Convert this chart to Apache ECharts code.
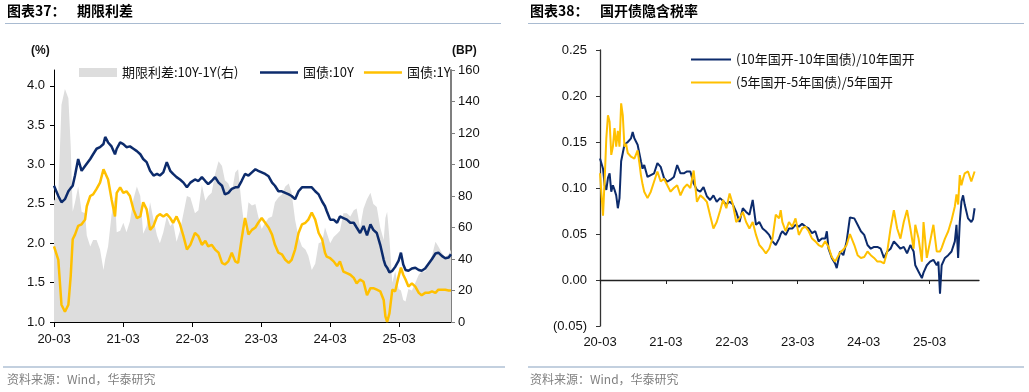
<!DOCTYPE html>
<html><head><meta charset="utf-8">
<script src="https://cdn.jsdelivr.net/npm/echarts@6/dist/echarts.min.js"></script>
<style>html,body{margin:0;padding:0;background:#fff}#c{width:1029px;height:392px}</style>
</head><body><div id="c"></div>
<script>
// ---------- Left chart (图表37 期限利差): x = months since 2020-03 ----------
const monthsL = [0,0.75,1.3,1.9,2.5,2.9,3.25,3.65,4.2,4.8,5.4,5.7,6.3,6.8,7.4,8.0,8.6,8.9,9.4,10.0,
  10.6,10.9,11.5,12.05,12.6,13.2,13.8,14.4,15.0,15.5,16.1,16.7,17.3,17.9,18.4,19.0,19.6,20.2,20.7,21.3,
  21.9,22.5,23.1,23.7,24.5,25.1,25.7,26.3,26.8,27.4,28.0,28.6,29.2,29.7,30.3,30.9,31.5,32.0,32.6,33.2,
  33.8,34.4,35.0,35.5,36.1,36.7,37.3,37.9,38.4,39.0,39.6,40.2,40.8,41.3,41.9,42.5,43.1,43.7,44.2,44.8,
  45.4,46.0,46.6,47.1,47.4,48.0,48.6,49.2,49.7,50.3,50.9,51.5,52.1,52.6,53.2,53.8,54.4,55.0,55.5,56.1,
  56.7,57.3,57.6,57.9,58.3,58.8,59.3,59.9,60.3,60.7,61.1,61.6,62.2,62.8,63.4,63.9,64.5,65.1,65.7,66.3,
  66.8,67.4,68.0,68.6,69.0];
const yield10Y = [2.73,2.60,2.52,2.56,2.66,2.70,2.73,2.86,3.07,2.92,2.98,3.00,3.07,3.13,3.20,3.22,3.26,3.35,3.28,3.23,
  3.13,3.20,3.28,3.26,3.22,3.23,3.20,3.17,3.13,3.07,3.03,2.92,2.86,2.88,2.86,2.90,3.03,2.92,2.88,2.84,
  2.81,2.77,2.71,2.77,2.81,2.79,2.84,2.79,2.75,2.79,2.84,2.77,2.73,2.62,2.64,2.69,2.71,2.71,2.79,2.88,
  2.86,2.90,2.94,2.92,2.90,2.88,2.85,2.77,2.73,2.66,2.66,2.64,2.62,2.60,2.56,2.66,2.71,2.71,2.71,2.71,
  2.66,2.62,2.53,2.47,2.41,2.30,2.30,2.26,2.34,2.32,2.30,2.26,2.26,2.20,2.13,2.22,2.10,2.24,2.17,2.13,
  1.98,1.79,1.72,1.69,1.63,1.65,1.70,1.78,1.88,1.73,1.66,1.65,1.68,1.69,1.66,1.65,1.68,1.74,1.80,1.87,
  1.88,1.84,1.81,1.82,1.86];
const yield1Y = [1.96,1.79,1.22,1.13,1.22,1.58,2.05,2.11,2.22,2.24,2.30,2.47,2.60,2.62,2.69,2.77,2.94,2.96,2.81,2.56,
  2.34,2.64,2.71,2.64,2.66,2.60,2.43,2.32,2.34,2.52,2.43,2.17,2.22,2.34,2.37,2.34,2.37,2.32,2.26,2.34,
  2.24,2.09,1.92,1.98,2.13,2.09,1.98,2.03,1.96,1.98,1.92,1.88,1.75,1.73,1.77,1.88,1.77,1.75,2.05,2.32,
  2.11,2.17,2.20,2.26,2.32,2.26,2.20,2.11,1.98,1.88,1.86,1.79,1.75,1.79,1.92,2.13,2.24,2.26,2.30,2.39,
  2.30,2.13,2.05,1.88,1.83,1.81,1.77,1.71,1.77,1.64,1.62,1.60,1.56,1.49,1.54,1.51,1.34,1.43,1.43,1.41,
  1.39,1.28,1.07,1.00,1.11,1.41,1.39,1.58,1.69,1.60,1.54,1.45,1.49,1.45,1.37,1.34,1.37,1.37,1.39,1.37,
  1.41,1.41,1.41,1.40,1.40];
const spreadBP = [77,81,138,148,142,112,70,76,86,70,69,55,48,52,52,46,33,40,48,68,
  80,57,58,63,57,64,78,86,80,56,61,76,65,55,50,57,67,61,63,51,
  58,69,80,79,69,71,87,77,80,82,94,102,99,90,88,82,95,97,75,57,
  76,74,75,67,59,63,66,67,76,79,81,86,88,82,65,54,48,46,42,33,
  37,50,51,60,59,50,54,56,58,69,69,67,71,72,60,72,78,82,75,73,
  60,52,66,70,53,25,32,21,20,14,13,21,20,25,30,32,32,38,42,51,
  48,44,41,43,46];
const pctTicks = [1.0,1.5,2.0,2.5,3.0,3.5,4.0];

// ---------- Right chart (图表38 国开债隐含税率) ----------
const monthsR = [0,0.55,0.85,1.15,1.45,1.75,2.05,2.35,2.65,2.95,3.25,3.55,3.85,4.15,4.45,4.75,5.05,5.65,5.95,6.25,
  6.85,7.15,7.45,7.75,8.05,8.65,9.25,9.85,10.45,11.05,11.65,12.25,12.85,13.45,14.05,14.65,15.25,15.85,16.45,17.05,
  17.65,18.25,18.85,19.45,20.05,20.65,21.25,21.85,22.4,23.0,23.6,24.2,24.8,25.4,26.0,26.6,27.2,27.8,28.4,29.0,
  29.6,30.2,30.8,31.4,32.0,32.6,32.9,33.2,33.8,34.4,35.0,35.6,36.2,36.8,37.4,38.0,38.6,39.2,39.8,40.4,
  41.0,41.3,41.6,42.2,42.8,43.1,43.7,44.3,44.9,45.5,46.3,46.9,47.5,48.1,48.7,49.3,49.9,50.5,51.1,51.7,
  52.3,52.9,53.5,54.1,54.7,55.3,55.9,56.5,57.1,57.4,58.0,58.6,58.9,59.5,60.1,60.7,61.3,61.6,61.9,62.2,
  62.8,63.4,64.0,64.6,64.9,65.2,65.5,65.8,66.1,66.4,67.0,67.6,67.9,68.2];
const ratioCDB10 = [0.132,0.121,0.103,0.098,0.111,0.116,0.096,0.103,0.098,0.092,0.078,0.089,0.129,0.138,0.147,0.148,0.150,0.154,0.161,0.154,
  0.147,0.138,0.129,0.121,0.125,0.112,0.114,0.116,0.127,0.123,0.111,0.107,0.109,0.112,0.125,0.116,0.116,0.118,0.118,0.105,
  0.098,0.096,0.101,0.091,0.087,0.092,0.085,0.089,0.086,0.082,0.085,0.082,0.074,0.063,0.078,0.074,0.071,0.087,0.060,0.063,
  0.056,0.053,0.049,0.042,0.038,0.045,0.050,0.053,0.049,0.056,0.056,0.060,0.058,0.061,0.058,0.056,0.051,0.053,0.042,0.045,
  0.045,0.053,0.034,0.024,0.018,0.013,0.031,0.027,0.042,0.068,0.067,0.060,0.053,0.049,0.038,0.034,0.036,0.036,0.034,0.024,
  0.031,0.034,0.042,0.038,0.034,0.036,0.029,0.038,0.031,0.016,0.009,0.002,0.008,0.016,0.020,0.022,0.016,0.020,-0.015,0.016,
  0.024,0.027,0.031,0.042,0.060,0.024,0.063,0.085,0.092,0.082,0.067,0.063,0.066,0.078];
const ratioCDB5 = [0.116,0.070,0.109,0.154,0.179,0.172,0.136,0.145,0.165,0.145,0.162,0.145,0.192,0.179,0.145,0.148,0.138,0.134,0.133,0.132,
  0.141,0.128,0.114,0.104,0.096,0.089,0.096,0.107,0.118,0.107,0.110,0.103,0.096,0.100,0.103,0.092,0.100,0.104,0.100,0.119,
  0.085,0.092,0.089,0.085,0.070,0.056,0.063,0.075,0.087,0.078,0.094,0.082,0.063,0.067,0.074,0.063,0.056,0.063,0.049,0.038,
  0.034,0.029,0.034,0.045,0.071,0.067,0.076,0.063,0.053,0.063,0.058,0.067,0.049,0.056,0.058,0.053,0.045,0.042,0.038,0.036,
  0.042,0.040,0.036,0.025,0.020,0.022,0.030,0.033,0.038,0.050,0.038,0.027,0.024,0.025,0.031,0.027,0.024,0.020,0.020,0.018,
  0.031,0.056,0.076,0.056,0.045,0.063,0.076,0.056,0.034,0.060,0.045,0.020,0.063,0.024,0.042,0.060,0.031,0.030,0.031,0.035,
  0.045,0.053,0.065,0.080,0.093,0.082,0.114,0.103,0.110,0.116,0.118,0.107,0.105,0.118];
const ratioTicks = [-0.05,0,0.05,0.10,0.15,0.20,0.25];

// ---------- shared x ticks ----------
const xTickMonths = [0,12,24,36,48,60];
const xTickLabels = ['20-03','21-03','22-03','23-03','24-03','25-03'];

const NAVY = '#0c2b6c', GOLD = '#ffc000', GREY = '#dddddd';
const FONT = '"Liberation Sans", Arial, "Noto Sans CJK SC", sans-serif';
const CJK = '"Noto Sans CJK SC", "Liberation Sans", sans-serif';
const pairs = (xs, ys) => xs.map((x, i) => [x, ys[i]]);
const xFmt = v => { const i = xTickMonths.indexOf(v); return i >= 0 ? xTickLabels[i] : ''; };
const legendText = {fontSize: 13, color: '#111', fontFamily: CJK};

const chart = echarts.init(document.getElementById('c'), null, {renderer: 'canvas'});
chart.setOption({
  animation: false,
  backgroundColor: '#fff',
  textStyle: {fontFamily: FONT},
  grid: [
    {left: 54, top: 70, width: 397, height: 252},
    {left: 600, top: 50, width: 379, height: 276}
  ],
  legend: [
    {left: 74, top: 61, itemWidth: 38, itemHeight: 9, textStyle: legendText, icon: 'rect',
     data: [{name: '期限利差:10Y-1Y(右)', itemStyle: {color: GREY}}]},
    {left: 255, top: 61, itemWidth: 38, itemHeight: 2.5, itemGap: 10, textStyle: legendText, icon: 'rect',
     data: ['国债:10Y', '国债:1Y']},
    {left: 686, top: 48, orient: 'vertical', itemWidth: 40, itemHeight: 2, itemGap: 10, icon: 'rect',
     textStyle: legendText,
     data: ['(10年国开-10年国债)/10年国开', '(5年国开-5年国债)/5年国开']}
  ],
  xAxis: [
    {gridIndex: 0, type: 'value', min: 0, max: 69,
     axisLine: {show: true, onZero: false, lineStyle: {color: '#000', width: 1}},
     axisTick: {show: true, length: 5, customValues: xTickMonths, lineStyle: {color: '#000'}},
     axisLabel: {customValues: xTickMonths, formatter: xFmt, fontSize: 13, color: '#111', margin: 11},
     splitLine: {show: false}},
    {gridIndex: 1, type: 'value', min: 0, max: 69, position: 'bottom',
     axisLine: {show: true, onZero: true, lineStyle: {color: '#222', width: 1.3}},
     axisTick: {show: true, length: 4, customValues: xTickMonths, lineStyle: {color: '#222'}},
     axisLabel: {show: false}, splitLine: {show: false}},
    {gridIndex: 1, type: 'value', min: 0, max: 69, position: 'bottom',
     axisLine: {show: false, onZero: false}, axisTick: {show: false},
     axisLabel: {customValues: xTickMonths, formatter: xFmt, fontSize: 13, color: '#111', margin: 10},
     splitLine: {show: false}}
  ],
  yAxis: [
    {gridIndex: 0, type: 'value', min: 1, max: 4.2, position: 'left',
     axisLine: {show: true, lineStyle: {color: '#000'}},
     axisTick: {show: true, length: 4, customValues: pctTicks, lineStyle: {color: '#000'}},
     axisLabel: {customValues: pctTicks, formatter: v => v.toFixed(1), fontSize: 13, color: '#111', margin: 9},
     splitLine: {show: false}},
    {gridIndex: 0, type: 'value', min: 0, max: 160, interval: 20, position: 'right',
     axisLine: {show: true, lineStyle: {color: '#7f7f7f', width: 2}},
     axisTick: {show: true, length: 4, lineStyle: {color: '#7f7f7f'}},
     axisLabel: {fontSize: 13, color: '#111', margin: 7},
     splitLine: {show: false}},
    {gridIndex: 1, type: 'value', min: -0.05, max: 0.25, interval: 0.05,
     axisLine: {show: true, onZero: false, lineStyle: {color: '#333', width: 1.3}},
     axisTick: {show: true, length: 4, lineStyle: {color: '#333'}},
     axisLabel: {fontSize: 13, color: '#111', margin: 13,
       formatter: v => v < -1e-9 ? '(' + Math.abs(v).toFixed(2) + ')' : Math.abs(v).toFixed(2)},
     splitLine: {show: false}}
  ],
  series: [
    {name: '期限利差:10Y-1Y(右)', type: 'line', xAxisIndex: 0, yAxisIndex: 1, data: pairs(monthsL, spreadBP),
     symbol: 'none', lineStyle: {width: 0, color: GREY}, itemStyle: {color: GREY},
     areaStyle: {color: GREY, opacity: 1}, z: 1},
    {name: '国债:10Y', type: 'line', xAxisIndex: 0, yAxisIndex: 0, data: pairs(monthsL, yield10Y),
     symbol: 'none', lineStyle: {width: 2.5, color: NAVY}, itemStyle: {color: NAVY}, z: 3},
    {name: '国债:1Y', type: 'line', xAxisIndex: 0, yAxisIndex: 0, data: pairs(monthsL, yield1Y),
     symbol: 'none', lineStyle: {width: 2.5, color: GOLD}, itemStyle: {color: GOLD}, z: 3},
    {name: '(10年国开-10年国债)/10年国开', type: 'line', xAxisIndex: 1, yAxisIndex: 2, data: pairs(monthsR, ratioCDB10),
     symbol: 'none', lineStyle: {width: 2, color: NAVY}, itemStyle: {color: NAVY}, z: 3},
    {name: '(5年国开-5年国债)/5年国开', type: 'line', xAxisIndex: 1, yAxisIndex: 2, data: pairs(monthsR, ratioCDB5),
     symbol: 'none', lineStyle: {width: 2, color: GOLD}, itemStyle: {color: GOLD}, z: 4}
  ],
  graphic: [
    {type: 'text', left: 7, top: 4, style: {text: '图表37：', font: 'bold 14px ' + CJK, fill: '#000'}},
    {type: 'text', left: 77, top: 4, style: {text: '期限利差', font: 'bold 14px ' + CJK, fill: '#000'}},
    {type: 'text', left: 530, top: 4, style: {text: '图表38：', font: 'bold 14px ' + CJK, fill: '#000'}},
    {type: 'text', left: 600, top: 4, style: {text: '国开债隐含税率', font: 'bold 14px ' + CJK, fill: '#000'}},
    {type: 'line', shape: {x1: 5, y1: 23.5, x2: 501, y2: 23.5}, style: {stroke: '#a9bbd1', lineWidth: 1}},
    {type: 'line', shape: {x1: 528, y1: 23.5, x2: 1024, y2: 23.5}, style: {stroke: '#a9bbd1', lineWidth: 1}},
    {type: 'text', left: 31, top: 45, style: {text: '(%)', font: 'bold 12px ' + FONT, fill: '#111'}},
    {type: 'text', left: 452, top: 45, style: {text: '(BP)', font: 'bold 12px ' + FONT, fill: '#111'}},
    {type: 'line', shape: {x1: 3, y1: 367, x2: 505, y2: 367}, style: {stroke: '#c3d0df', lineWidth: 2}},
    {type: 'line', shape: {x1: 528, y1: 367, x2: 1024, y2: 367}, style: {stroke: '#c3d0df', lineWidth: 2}},
    {type: 'text', left: 7, top: 373, style: {text: '资料来源：Wind，华泰研究', font: '12px ' + CJK, fill: '#808080'}},
    {type: 'text', left: 530, top: 373, style: {text: '资料来源：Wind，华泰研究', font: '12px ' + CJK, fill: '#808080'}}
  ]
});
</script>
</body></html>
